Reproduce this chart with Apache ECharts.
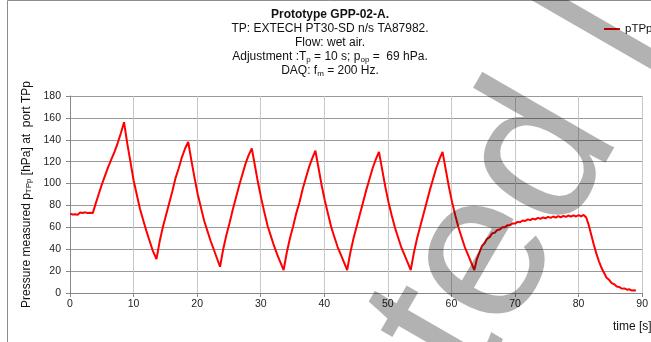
<!DOCTYPE html>
<html>
<head>
<meta charset="utf-8">
<script src="https://cdn.jsdelivr.net/npm/echarts@6/dist/echarts.min.js"></script>
<style>
  html, body { margin: 0; padding: 0; background: #fff; }
  #chart { width: 651px; height: 342px; }
</style>
</head>
<body>
<div id="chart"></div>
<script>
// time axis [s]
const time = [
    0, 0.2, 0.4, 0.6, 0.8, 1.0, 1.2, 1.4, 1.6, 1.8, 2.0, 2.2, 2.4, 2.6, 2.8, 3.0, 3.2, 3.4, 3.6,
    4.0, 4.5, 5.0, 5.5, 6.0, 6.5, 7.0, 7.5, 8.0, 8.5,
    9.0, 9.5, 10.0, 10.5, 11.0, 11.5, 12.0, 12.5, 13.0, 13.6,
    14.1, 14.6, 15.1, 15.6, 16.1, 16.6, 17.1, 17.6, 18.1, 18.6,
    19.1, 19.6, 20.1, 20.6, 21.1, 21.6, 22.1, 22.6, 23.1, 23.6,
    24.1, 24.6, 25.1, 25.6, 26.1, 26.6, 27.1, 27.6, 28.1, 28.6,
    29.1, 29.6, 30.1, 30.6, 31.1, 31.6, 32.1, 32.6, 33.1, 33.6,
    34.1, 34.6, 35.1, 35.6, 36.1, 36.6, 37.1, 37.6, 38.1, 38.6,
    39.1, 39.6, 40.1, 40.6, 41.1, 41.6, 42.1, 42.6, 43.1, 43.6,
    44.1, 44.6, 45.1, 45.6, 46.1, 46.6, 47.1, 47.6, 48.1, 48.6,
    49.1, 49.6, 50.1, 50.6, 51.1, 51.6, 52.1, 52.6, 53.1, 53.6,
    54.1, 54.6, 55.1, 55.6, 56.1, 56.6, 57.1, 57.6, 58.1, 58.6,
    59.1, 59.6, 60.1, 60.6, 61.1, 61.6, 62.1, 62.6, 63.1, 63.6,
    64.0, 64.4, 64.8, 65.2, 65.6, 66.0, 66.4, 66.8, 67.2, 67.6, 68.0, 68.4, 68.8, 69.2, 69.6,
    70.0, 70.4, 70.8, 71.2, 71.6, 72.0, 72.4, 72.8, 73.2, 73.6, 74.0, 74.4, 74.8, 75.2, 75.6,
    76.0, 76.4, 76.8, 77.2, 77.6, 78.0, 78.4, 78.8, 79.2, 79.6, 80.0, 80.4, 80.8, 81.0,
    81.2, 81.6, 82.0, 82.4, 82.8, 83.2, 83.6, 84.0, 84.4, 84.8, 85.2, 85.6, 86.0, 86.4, 86.8,
    87.2, 87.6, 88.0, 88.4, 88.8, 89.0
];

// pressure at port TPp [hPa]
const pTPp = [
    72.5, 73.6, 71.8, 73.2, 72.0, 73.8, 71.5, 72.9, 73.5, 71.9, 73.1, 72.2, 73.7, 72.4, 73.0, 71.8, 73.4, 72.6, 73.2,
    81, 90, 99, 107, 115, 122, 129, 137, 146, 156,
    137, 120, 103, 90, 77, 67, 57, 48, 39, 31,
    47, 60, 71, 82, 93, 105, 114, 124, 132, 138,
    121, 105, 90, 78, 66, 57, 48, 40, 32, 24,
    40, 53, 64, 76, 87, 98, 108, 118, 126, 132,
    116, 100, 86, 73, 61, 52, 43, 35, 28, 21,
    37, 50, 61, 73, 83, 95, 105, 115, 123, 130,
    114, 98, 84, 72, 60, 51, 42, 35, 28, 21,
    37, 50, 61, 72, 83, 94, 104, 114, 122, 129,
    113, 97, 83, 71, 60, 51, 42, 35, 28, 21,
    37, 50, 61, 72, 83, 94, 104, 114, 122, 129,
    113, 97, 83, 71, 60, 51, 42, 35, 28, 21,
    31, 37, 43, 45.5, 49.5, 51, 54.5, 55, 57.5, 58, 60, 60, 62, 61.8, 63.6,
    63.4, 65, 64.6, 66.2, 65.8, 67.3, 66.6, 68, 67.2, 68.6, 67.8, 69, 68.2, 69.5, 68.6,
    69.9, 68.9, 70.2, 69.2, 70.5, 69.5, 70.8, 69.7, 71, 69.9, 71.2, 70.1, 71.3, 70.8,
    69, 62, 53, 44, 36, 29, 23, 18.5, 14, 12, 9, 8, 6, 5.5, 4,
    4.2, 3, 3.4, 2.2, 2.6, 2
];

const xMin = 0, xMax = 90, xStep = 10;
const yMin = 0, yMax = 180, yStep = 20;

const titleLines = [
    '{b|Prototype GPP-02-A.}',
    'TP: EXTECH PT30-SD n/s TA87982.',
    'Flow: wet air.',
    'Adjustment :T{s|p} = 10 s; p{s|op} =  69 hPa.',
    'DAQ: f{s|m} = 200 Hz.'
];

const FONT = '"Liberation Sans", Arial, sans-serif';
const subStyle = { fontSize: 8, fontFamily: FONT, lineHeight: 8, verticalAlign: 'bottom', fill: '#111', color: '#111' };

const chart = echarts.init(document.getElementById('chart'), null, { renderer: 'canvas' });

const option = {
    animation: false,
    backgroundColor: '#fff',
    grid: { left: 70, right: 5, top: 96, bottom: 49 },
    legend: {
        data: ['pTPp'],
        left: 604,
        top: 23,
        padding: 0,
        icon: 'rect',
        itemWidth: 16,
        itemHeight: 2,
        textStyle: { fontFamily: FONT, fontSize: 11.5, color: '#111' }
    },
    xAxis: {
        type: 'value',
        min: xMin,
        max: xMax,
        interval: xStep,
        axisLine: { show: true, lineStyle: { color: '#888', width: 1 } },
        axisTick: { show: true, length: 4, lineStyle: { color: '#888' } },
        axisLabel: { fontFamily: FONT, fontSize: 10.5, color: '#222', margin: 6 },
        splitLine: { show: true, lineStyle: { color: '#c8c8c8', width: 1 } }
    },
    yAxis: {
        type: 'value',
        min: yMin,
        max: yMax,
        interval: yStep,
        name: 'Pressure measured p{s|TPp} [hPa] at  port TPp',
        nameLocation: 'middle',
        nameGap: 32,
        nameTextStyle: {
            fontFamily: FONT, fontSize: 12, color: '#111',
            rich: { s: subStyle }
        },
        axisLine: { show: true, lineStyle: { color: '#888', width: 1 } },
        axisTick: { show: true, length: 4, lineStyle: { color: '#888' } },
        axisLabel: { fontFamily: FONT, fontSize: 10.5, color: '#222', margin: 9 },
        splitLine: { show: true, lineStyle: { color: '#999', width: 1 } }
    },
    series: [{
        name: 'pTPp',
        type: 'line',
        data: time.map((t, i) => [t, pTPp[i]]),
        showSymbol: false,
        symbol: 'none',
        clip: false,
        lineStyle: { color: '#ff0000', width: 2 },
        itemStyle: { color: '#ff0000' },
        z: 5
    }],
    graphic: [
        {
            // chart-area frame (left and top edges visible)
            type: 'rect',
            silent: true,
            shape: { x: 7.5, y: 0.5, width: 700, height: 400 },
            style: { fill: null, stroke: '#8c8c8c', lineWidth: 1 }
        },
        {
            type: 'text',
            x: 330,
            y: 8,
            silent: true,
            style: {
                text: titleLines.join('\n'),
                fontFamily: FONT,
                fontSize: 12,
                lineHeight: 14,
                fill: '#111',
                textAlign: 'center',
                align: 'center',
                textVerticalAlign: 'top',
                verticalAlign: 'top',
                rich: {
                    b: { fontFamily: FONT, fontSize: 12, fontWeight: 'bold', lineHeight: 14, fill: '#111' },
                    s: subStyle
                }
            }
        },
        {
            type: 'text',
            x: 613,
            y: 321,
            silent: true,
            style: { text: 'time [s]', fontFamily: FONT, fontSize: 12, fill: '#111' }
        },
        {
            // diagonal watermark, translucent black so it darkens what lies under it
            type: 'text',
            x: 516,
            y: 412,
            rotation: Math.PI / 3,
            silent: true,
            z: 100,
            style: {
                text: 'ted l',
                fontFamily: FONT,
                fontSize: 210,
                fill: 'rgba(0,0,0,0.3)',
                textAlign: 'left',
                align: 'left',
                textVerticalAlign: 'bottom',
                verticalAlign: 'bottom'
            }
        }
    ]
};

chart.setOption(option);
</script>
</body>
</html>
